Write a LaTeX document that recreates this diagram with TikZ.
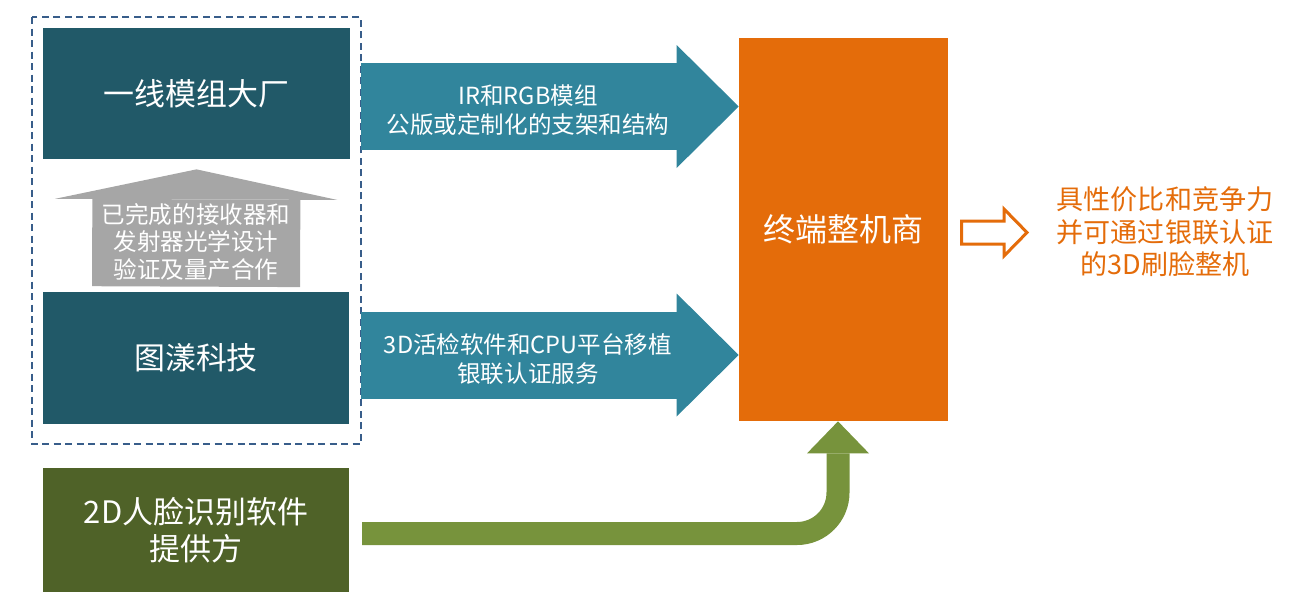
\documentclass[tikz,border=0pt]{standalone}
\usepackage{fontspec}
\setmainfont{Noto Sans CJK SC}
\usetikzlibrary{arrows.meta}

\definecolor{boxteal}{HTML}{215968}
\definecolor{arrowteal}{HTML}{31859C}
\definecolor{boxgreen}{HTML}{4F6228}
\definecolor{arrowgreen}{HTML}{77933C}
\definecolor{oemorange}{HTML}{E46C0A}
\definecolor{arrowgray}{HTML}{A6A6A6}
\definecolor{groupblue}{HTML}{385D8A}

\tikzset{
  firmbox/.style={fill=boxteal, text=white, minimum width=61.2mm, inner sep=0pt,
    align=center, font=\fontsize{17.6pt}{21pt}\selectfont},
  armtext/.style={text=white, align=center, font=\fontsize{13.4pt}{16.5pt}\selectfont},
  fatarrow/.style={draw=arrowteal, line width=17.4mm,
    -{Triangle[length=12.4mm,width=24.6mm,line width=0pt]}},
  groupline/.style={draw=groupblue, line width=0.4mm, dash pattern=on 1.4mm off 0.9mm}
}

\begin{document}
\begin{tikzpicture}[x=0.2mm,y=-0.2mm]
\useasboundingbox (0,0) rectangle (1315,614);

% the three suppliers
\node[firmbox, minimum height=26.2mm] (maker) at (196.5,93.5) {一线模组大厂};
\node[firmbox, minimum height=26.4mm] (tuyang) at (196,358) {图漾科技};
\node[firmbox, fill=boxgreen, minimum height=24.8mm] (soft) at (196,530) {2D人脸识别软件\\提供方};

% terminal maker
\node[fill=oemorange, text=white, minimum width=41.8mm, minimum height=76.6mm,
  font=\fontsize{18.2pt}{22pt}\selectfont] (oem) at (843.5,229.5) {终端整机商};

% group frame round the two teal boxes
\draw[groupline] (32,17) rectangle (361,444);

% cooperation between them
\draw[draw=arrowgray, line width=41.6mm, -{Triangle[length=6mm,width=56.4mm,line width=0pt]}]
  ([yshift=1mm]tuyang.north) -- ([yshift=-2mm]maker.south);
\node[armtext, font=\fontsize{13.4pt}{15.4pt}\selectfont] (cooptext) at (196,242)
  {已完成的接收器和\\发射器光学设计\\验证及量产合作};

% what goes to the terminal maker
\coordinate (irfrom) at (361,106.5);
\draw[fatarrow] (irfrom) -- (irfrom -| oem.west);
\node[armtext] (irtext) at (528,110) {IR和RGB模组\\公版或定制化的支架和结构};

\coordinate (svcfrom) at (361,355);
\draw[fatarrow] (svcfrom) -- (svcfrom -| oem.west);
\node[armtext] (svctext) at (528,359.5) {3D活检软件和CPU平台移植\\银联认证服务};

\coordinate (softfrom) at (362,533.5);
\draw[draw=arrowgreen, line width=4.6mm, rounded corners=8.2mm,
  -{Triangle[length=6.4mm,width=12.4mm,line width=0pt]}]
  (softfrom) -| ([xshift=-1.1mm]oem.south);

% result
\draw[draw=oemorange, line width=0.6mm, fill=white]
  (961.5,221) -- (1004,221) -- (1004,209) -- (1027,232.5) -- (1004,256)
  -- (1004,244) -- (961.5,244) -- cycle;
\node[text=oemorange, align=center, font=\fontsize{15.4pt}{18.5pt}\selectfont] (result)
  at (1165,232) {具性价比和竞争力\\并可通过银联认证\\的3D刷脸整机};

\end{tikzpicture}
\end{document}
